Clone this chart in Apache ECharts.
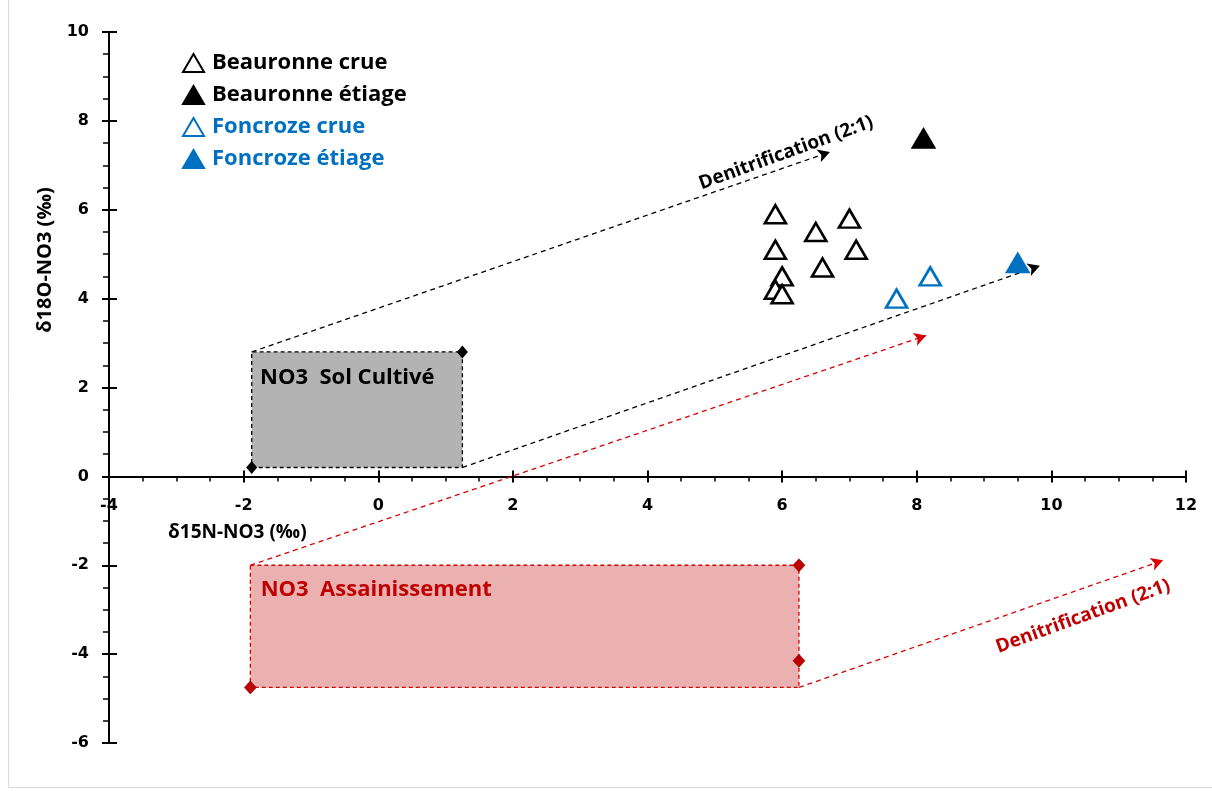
<!DOCTYPE html>
<html><head><meta charset="utf-8">
<script src="https://cdn.jsdelivr.net/npm/echarts@6/dist/echarts.min.js"></script>
<style>html,body{margin:0;padding:0;background:#fff}#c{width:1212px;height:791px}</style>
</head><body><div id="c"></div>
<script>
// ---- data ----
const beauronneCrue = [[5.9,5.9],[6.5,5.5],[7.0,5.8],[5.9,5.1],[7.1,5.1],[6.6,4.7],[6.0,4.5],[5.9,4.2],[6.0,4.1]];
const beauronneEtiage = [[8.1,7.6]];
const foncrozeCrue = [[7.7,4.0],[8.2,4.5]];
const foncrozeEtiage = [[9.5,4.8]];
const solCultiveBox = [[-1.88,0.2],[1.25,2.8]];
const solCultiveDiamonds = [[-1.88,0.2],[1.25,2.8]];
const assainBox = [[-1.9,-2],[6.25,-4.75]];
const assainDiamonds = [[6.25,-2],[6.25,-4.15],[-1.9,-4.75]];
const denitBlack = [[[-1.88,2.8],[6.71,7.3]],[[1.25,0.2],[9.83,4.74]]];
const denitRed = [[[-1.9,-2],[8.14,3.17]],[[6.25,-4.75],[11.66,-1.89]]];
const denitLabelBlack = [[6.06,7.28]];
const denitLabelRed = [[10.47,-3.15]];
const xRange = [-4,12], yRange = [-6,10];
const labelText = 'Denitrification (2:1)';
const solLabel = 'NO3\u00a0\u00a0Sol Cultivé';
const assainLabel = 'NO3\u00a0\u00a0Assainissement';
const xName = 'δ15N-NO3 (‰)', yName = 'δ18O-NO3 (‰)';

const BLUE = '#0070c0', RED = '#c00000', DRED = '#d80000';
const F = 'Open Sans';
const W = 1212, H = 791, G = {left:109, right:26, top:32, bottom:48};
const gridH = H - G.top - G.bottom;
const zeroOffset = -(0 - yRange[0]) / (yRange[1] - yRange[0]) * gridH;

const chart = echarts.init(document.getElementById('c'), null, {renderer:'canvas'});

function tri(name, data, fill, stroke){
  return {name, type:'scatter', data, symbol:'triangle', symbolSize:[21,18], z:5,
    itemStyle:{color:fill, borderColor:stroke, borderWidth:2.6, opacity:1}};
}
const tickFont = {fontFamily:'DejaVu Sans', fontWeight:'bold', fontSize:16, color:'#000'};

chart.setOption({
  animation:false,
  backgroundColor:'#fff',
  grid:G,
  xAxis:[
    {type:'value', min:xRange[0], max:xRange[1], interval:2, position:'bottom', offset:zeroOffset,
     axisLine:{show:true, onZero:false, lineStyle:{color:'#000', width:2}},
     axisTick:{show:true, inside:false, length:6, lineStyle:{color:'#000', width:2}},
     minorTick:{show:true, splitNumber:4, length:5, lineStyle:{color:'#000', width:1.5}},
     splitLine:{show:false}, axisLabel:Object.assign({margin:21}, tickFont)},
    {type:'value', min:xRange[0], max:xRange[1], interval:2, position:'bottom', offset:zeroOffset,
     axisLine:{show:false, onZero:false},
     axisTick:{show:true, inside:true, length:6, lineStyle:{color:'#000', width:2}},
     splitLine:{show:false}, axisLabel:{show:false}}
  ],
  yAxis:[
    {type:'value', min:yRange[0], max:yRange[1], interval:2, position:'left',
     axisLine:{show:true, onZero:false, lineStyle:{color:'#000', width:2}},
     axisTick:{show:true, inside:false, length:7, lineStyle:{color:'#000', width:2}},
     minorTick:{show:true, splitNumber:4, length:6, lineStyle:{color:'#000', width:1.5}},
     splitLine:{show:false}, axisLabel:Object.assign({margin:20}, tickFont)},
    {type:'value', min:yRange[0], max:yRange[1], interval:2, position:'left',
     axisLine:{show:false, onZero:false},
     axisTick:{show:true, inside:true, length:8, lineStyle:{color:'#000', width:2}},
     splitLine:{show:false}, axisLabel:{show:false}}
  ],
  legend:{orient:'vertical', left:177, top:47, itemWidth:21, itemHeight:18, itemGap:10, selectedMode:false,
    textStyle:{fontFamily:F, fontWeight:'bold', fontSize:22, padding:[0,0,0,3]},
    data:[
      {name:'Beauronne crue', textStyle:{color:'#000'}},
      {name:'Beauronne étiage', textStyle:{color:'#000'}},
      {name:'Foncroze crue', textStyle:{color:BLUE}},
      {name:'Foncroze étiage', textStyle:{color:BLUE}}
    ]},
  graphic:[
    {type:'rect', silent:true, shape:{x:8.5, y:-5, width:1210, height:792.5}, style:{fill:'none', stroke:'#d9d9d9', lineWidth:1}},
    {type:'text', left:168, top:523, silent:true, style:{text:xName, fontFamily:F, fontWeight:'bold', fontSize:19, fill:'#000'}},
    {type:'text', x:45, y:260, rotation:Math.PI/2, silent:true, style:{text:yName, fontFamily:F, fontWeight:'bold', fontSize:20, fill:'#000', align:'center', verticalAlign:'middle'}}
  ],
  series:[
    {name:'solBox', type:'scatter', data:solCultiveDiamonds, symbol:'diamond', symbolSize:[11,13], z:4,
     itemStyle:{color:'#000', opacity:1},
     markArea:{silent:true, itemStyle:{color:'#b3b3b3', borderColor:'#000', borderWidth:1.3, borderType:[4,3]},
       label:{show:true, position:'insideTopLeft', distance:0, padding:[15,0,0,9], fontFamily:F, fontWeight:'bold', fontSize:22, color:'#000'},
       data:[[{coord:solCultiveBox[0], name:solLabel},{coord:solCultiveBox[1]}]]},
     markLine:{silent:true, symbol:['none','arrow'], symbolSize:[10,12], label:{show:false},
       lineStyle:{type:[5,4], color:'#000', width:1.3},
       data:denitBlack.map(s=>[{coord:s[0]},{coord:s[1]}])}},
    {name:'assainBox', type:'scatter', data:assainDiamonds, symbol:'diamond', symbolSize:[12,13], z:4,
     itemStyle:{color:RED, borderColor:'#700000', borderWidth:0.6, opacity:1},
     markArea:{silent:true, itemStyle:{color:'#ebb1b1', borderColor:DRED, borderWidth:1.3, borderType:[4,3]},
       label:{show:true, position:'insideTopLeft', distance:0, padding:[14,0,0,11], fontFamily:F, fontWeight:'bold', fontSize:22, color:RED},
       data:[[{coord:assainBox[0], name:assainLabel},{coord:assainBox[1]}]]},
     markLine:{silent:true, symbol:['none','arrow'], symbolSize:[10,12], label:{show:false},
       lineStyle:{type:[5,4], color:DRED, width:1.3},
       data:denitRed.map(s=>[{coord:s[0]},{coord:s[1]}])}},
    {name:'lblBlack', type:'scatter', data:denitLabelBlack, symbolSize:0, silent:true, itemStyle:{opacity:1},
     label:{show:true, position:'inside', rotate:20, formatter:labelText, fontFamily:F, fontWeight:'bold', fontSize:19, color:'#000'}},
    {name:'lblRed', type:'scatter', data:denitLabelRed, symbolSize:0, silent:true, itemStyle:{opacity:1},
     label:{show:true, position:'inside', rotate:20, formatter:labelText, fontFamily:F, fontWeight:'bold', fontSize:19, color:RED}},
    tri('Beauronne crue', beauronneCrue, '#fff', '#000'),
    tri('Beauronne étiage', beauronneEtiage, '#000', '#000'),
    tri('Foncroze crue', foncrozeCrue, '#fff', BLUE),
    tri('Foncroze étiage', foncrozeEtiage, BLUE, BLUE)
  ]
});
</script></body></html>
